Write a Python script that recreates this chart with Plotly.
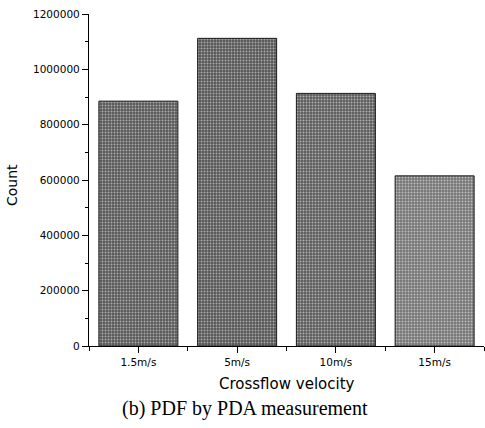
import plotly.graph_objects as go

categories = ["1.5m/s", "5m/s", "10m/s", "15m/s"]
counts = [885000, 1112000, 913000, 615000]
y_ticks = [0, 200000, 400000, 600000, 800000, 1000000, 1200000]

bar_colors = ["#575757", "#555555", "#5c5c5c", "#767676"]

fig = go.Figure()
fig.add_trace(go.Bar(
    x=list(range(len(categories))),
    y=counts,
    width=0.8,
    marker=dict(
        color=bar_colors,
        line=dict(color="#1a1a1a", width=1),
        pattern=dict(shape=".", fgcolor="#8c8c8c", size=3, solidity=0.35, fillmode="overlay"),
    ),
    showlegend=False,
))

sans = "DejaVu Sans, Arial, sans-serif"
axis_font = dict(family=sans, size=10.5, color="black")
fig.update_layout(
    width=485, height=428,
    margin=dict(l=89, r=1, t=14, b=82),
    paper_bgcolor="white", plot_bgcolor="white",
    xaxis=dict(
        range=[-0.5, 3.5],
        tickvals=list(range(len(categories))),
        ticktext=categories,
        showline=True, linecolor="black", linewidth=1.3,
        ticks="outside", ticklen=6, tickwidth=1.2, tickcolor="black",
        minor=dict(tickvals=[-0.5, 0.5, 1.5, 2.5, 3.5], ticks="outside", ticklen=4, tickcolor="black", tickwidth=1),
        showgrid=False, zeroline=False,
        tickfont=axis_font,
    ),
    yaxis=dict(
        range=[0, 1200000],
        tickvals=y_ticks,
        ticktext=[str(v) for v in y_ticks],
        showline=True, linecolor="black", linewidth=1.3,
        ticks="outside", ticklen=6, tickwidth=1.2, tickcolor="black",
        minor=dict(dtick=100000, ticks="outside", ticklen=3, tickcolor="black", tickwidth=1),
        showgrid=False, zeroline=False,
        tickfont=axis_font,
    ),
)

# Position annotations in pixel terms converted to paper coords
plot_l, plot_r, plot_t, plot_b = 89, 484, 14, 346
pw, ph = plot_r - plot_l, plot_b - plot_t
def px(x):
    return (x - plot_l) / pw
def py(y):
    return (plot_b - y) / ph

fig.update_layout(annotations=[
    dict(text="Count", x=px(12), y=py(185), xref="paper", yref="paper", showarrow=False,
         textangle=-90, xanchor="center", yanchor="middle",
         font=dict(family=sans, size=14, color="black")),
    dict(text="Crossflow velocity", x=px(287), y=py(384), xref="paper", yref="paper", showarrow=False,
         xanchor="center", yanchor="middle",
         font=dict(family=sans, size=15, color="black")),
    dict(text="(b) PDF by PDA measurement", x=px(245), y=py(408), xref="paper", yref="paper", showarrow=False,
         xanchor="center", yanchor="middle",
         font=dict(family="Liberation Serif, Times New Roman, serif", size=20, color="black")),
])

fig.write_html("out.html")
